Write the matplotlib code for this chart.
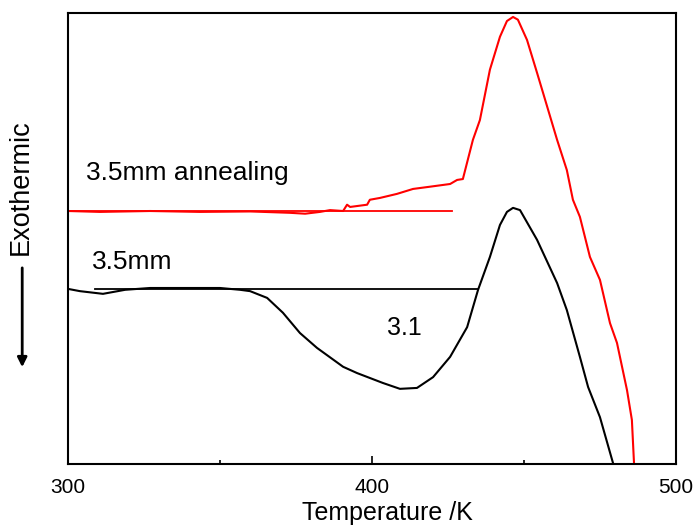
import matplotlib.pyplot as plt

plt.rcParams['font.family'] = ['Liberation Sans', 'DejaVu Sans']

# DSC traces (temperature in K, heat flow in arbitrary units)
t_plain = [300.0, 303.9, 311.5, 318.8, 327.0, 340.1, 350.0, 356.6, 359.9, 365.5,
           370.7, 376.3, 381.9, 390.5, 395.1, 403.6, 409.2, 414.8, 420.1, 425.7,
           431.3, 434.9, 438.8, 442.1, 444.4, 446.4, 448.7, 454.3, 460.9, 464.1,
           468.4, 471.1, 475.0, 479.3, 480.3]
hf_plain = [38.9, 38.4, 37.8, 38.7, 39.1, 39.1, 39.1, 38.7, 38.4, 36.9,
            33.6, 29.1, 25.8, 21.6, 20.2, 18.0, 16.7, 16.9, 19.3, 23.8,
            30.4, 38.7, 46.0, 53.1, 56.0, 56.9, 56.4, 49.8, 40.2, 34.2,
            23.8, 17.1, 10.4, 0.2, -2.4]

t_anneal = [300.0, 310.5, 327.0, 343.4, 360.0, 373.0, 378.0, 382.9, 386.2, 390.5,
            391.8, 392.8, 398.4, 399.3, 402.6, 408.2, 413.5, 419.1, 425.7, 428.0,
            429.9, 433.2, 435.5, 438.8, 442.1, 444.4, 446.4, 448.0, 451.0, 454.3,
            456.3, 460.9, 464.1, 466.1, 468.4, 471.7, 475.0, 478.3, 480.6, 483.9,
            485.5, 486.2, 486.3]
hf_anneal = [56.2, 56.0, 56.2, 56.0, 56.1, 55.8, 55.6, 56.0, 56.4, 56.2,
             57.6, 57.1, 57.6, 58.7, 59.1, 60.0, 61.1, 61.6, 62.2, 63.1,
             63.3, 72.0, 76.4, 87.6, 94.9, 98.4, 99.3, 98.7, 94.2, 86.9,
             82.4, 72.0, 65.3, 58.7, 54.9, 46.0, 40.9, 31.3, 26.9, 16.4,
             9.8, 0.2, -2.4]

# straight baselines
base_plain_t = [308.9, 434.9]
base_plain_hf = [38.9, 38.9]
base_anneal_t = [300.0, 426.3]
base_anneal_hf = [56.2, 56.2]

fig = plt.figure(figsize=(6.94, 5.27), dpi=100)
ax = fig.add_axes([0.098, 0.1195, 0.876, 0.856])

ax.plot(t_plain, hf_plain, color='black', lw=1.5)
ax.plot(base_plain_t, base_plain_hf, color='black', lw=1.3)
ax.plot(t_anneal, hf_anneal, color='red', lw=1.5)
ax.plot(base_anneal_t, base_anneal_hf, color='red', lw=1.3)

ax.text(306.0, 64.7, '3.5mm annealing', fontsize=19, va='center', ha='left')
ax.text(307.9, 44.9, '3.5mm', fontsize=19, va='center', ha='left')
ax.text(404.9, 30.2, '3.1', fontsize=18, va='center', ha='left')

ax.set_xlim(300, 500)
ax.set_ylim(0, 100.2)
ax.set_xticks([300, 400, 500])
ax.set_xticks([350, 450], minor=True)
ax.set_yticks([])
ax.tick_params(axis='x', which='major', direction='in', length=6, width=1.2,
               labelsize=15, pad=10)
ax.tick_params(axis='x', which='minor', direction='in', length=3, width=1.2)
for s in ax.spines.values():
    s.set_linewidth(1.5)

fig.text(0.5577, 0.027, 'Temperature /K', fontsize=18, ha='center', va='center')
fig.text(0.030, 0.645, 'Exothermic', rotation=90, fontsize=19.5,
         ha='center', va='center')
fig.add_artist(plt.matplotlib.patches.FancyArrowPatch(
    (0.032, 0.497), (0.032, 0.298), transform=fig.transFigure,
    arrowstyle='-|>', mutation_scale=14, lw=2, color='black'))

fig.savefig('out.png', dpi=100)
